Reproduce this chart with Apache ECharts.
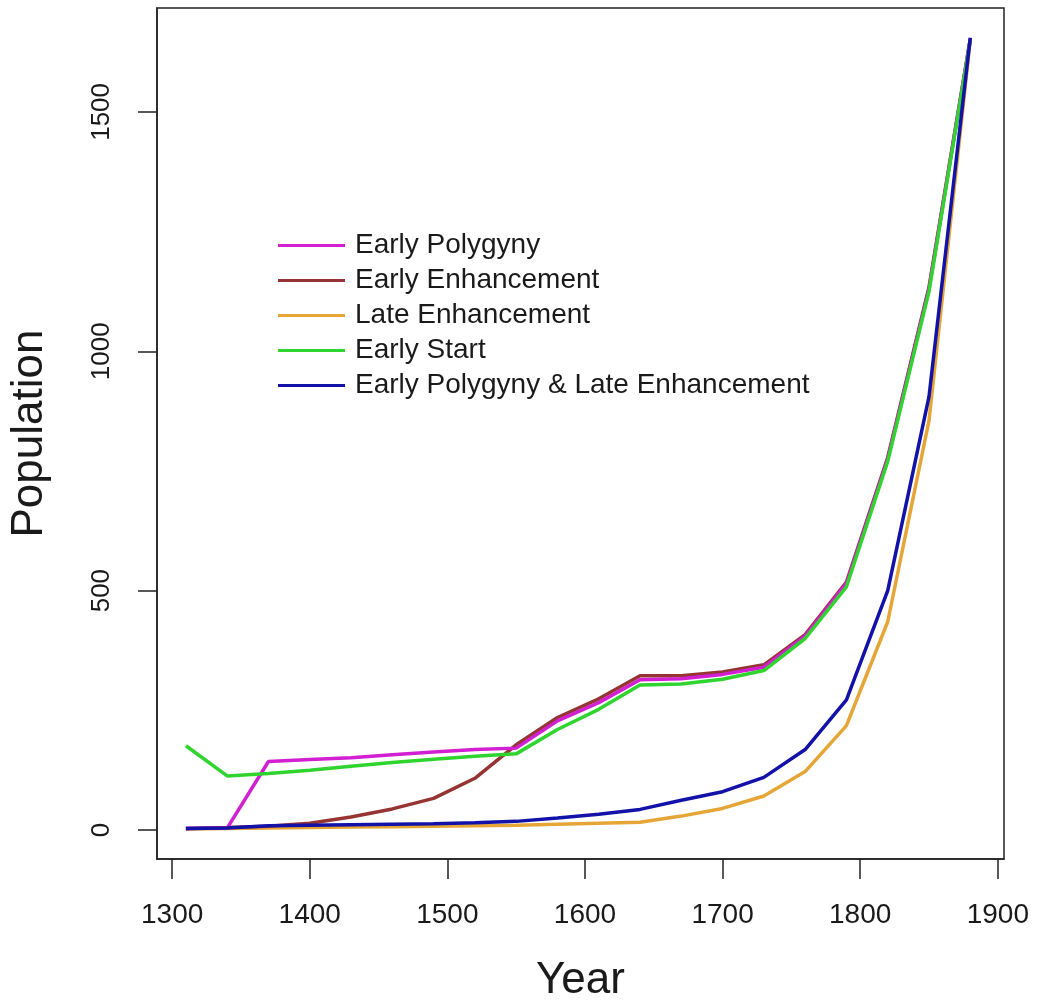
<!DOCTYPE html>
<html>
<head>
<meta charset="utf-8">
<script src="https://cdn.jsdelivr.net/npm/echarts@6/dist/echarts.min.js"></script>
<style>
  html, body { margin: 0; padding: 0; background: #fff; overflow: hidden; }
  #chart { width: 1038px; height: 1000px; }
</style>
</head>
<body>
<div id="chart"></div>
<script>
// ---- Data ----
const years = [1310, 1340, 1370, 1400, 1430, 1460, 1490, 1520, 1550, 1580,
               1610, 1640, 1670, 1700, 1730, 1760, 1790, 1820, 1850, 1880];

const earlyPolygyny      = [3, 4, 143, 147, 151, 157, 163, 168, 171, 228, 266, 314, 316, 325, 340, 405, 515, 775, 1130, 1652];
const earlyEnhancement   = [3, 5, 8, 14, 27, 44, 66, 108, 178, 235, 274, 322, 322, 330, 345, 408, 518, 778, 1134, 1652];
const lateEnhancement    = [2, 3, 4, 5, 6, 7, 8, 9, 10, 12, 14, 16, 29, 45, 71, 122, 218, 435, 855, 1650];
const earlyStart         = [176, 113, 118, 125, 133, 141, 148, 154, 159, 210, 252, 303, 305, 315, 333, 400, 508, 770, 1125, 1650];
const earlyPolyLateEnh   = [3, 4, 9, 10, 11, 12, 13, 15, 18, 25, 33, 43, 62, 80, 110, 168, 272, 500, 905, 1655];

const seriesNames = ['Early Polygyny', 'Early Enhancement', 'Late Enhancement', 'Early Start', 'Early Polygyny & Late Enhancement'];
const xTicks = [1300, 1400, 1500, 1600, 1700, 1800, 1900];
const yTicks = [0, 500, 1000, 1500];

const colors = {
  'Early Polygyny': '#d11fd1',
  'Early Enhancement': '#963434',
  'Late Enhancement': '#e6a637',
  'Early Start': '#2fd42f',
  'Early Polygyny & Late Enhancement': '#1212a8'
};

function pairs(vals) { return years.map((y, i) => [y, vals[i]]); }

const dataByName = {
  'Early Polygyny': earlyPolygyny,
  'Early Enhancement': earlyEnhancement,
  'Late Enhancement': lateEnhancement,
  'Early Start': earlyStart,
  'Early Polygyny & Late Enhancement': earlyPolyLateEnh
};

// draw order (later = on top)
const drawOrder = ['Late Enhancement', 'Early Enhancement', 'Early Polygyny', 'Early Start', 'Early Polygyny & Late Enhancement'];

const FONT = '"Liberation Sans", Arial, sans-serif';
const chart = echarts.init(document.getElementById('chart'), null, { renderer: 'canvas' });

chart.setOption({
  animation: false,
  backgroundColor: '#ffffff',
  grid: {
    left: 157, right: 34, top: 8, bottom: 141,
    outerBoundsMode: 'none',
    containLabel: false,
    show: true, borderColor: '#222', borderWidth: 1.5, backgroundColor: 'transparent'
  },
  legend: {
    orient: 'vertical',
    left: 273,
    top: 223,
    itemWidth: 67,
    itemHeight: 3,
    itemGap: 0,
    icon: 'rect',
    data: seriesNames,
    textStyle: { fontFamily: FONT, fontSize: 28, color: '#1a1a1a', lineHeight: 35, padding: [0, 0, 0, 5] }
  },
  xAxis: {
    type: 'value',
    min: 1289,
    max: 1904.5,
    name: 'Year',
    nameLocation: 'middle',
    nameGap: 100,
    nameTextStyle: { fontFamily: FONT, fontSize: 44, color: '#1a1a1a' },
    splitLine: { show: false },
    axisLine: { show: true, onZero: false, lineStyle: { color: '#222', width: 1.5 } },
    axisTick: { show: true, inside: false, length: 20, lineStyle: { color: '#222', width: 1.5 }, customValues: xTicks },
    axisLabel: { fontFamily: FONT, fontSize: 28, color: '#1a1a1a', margin: 42, customValues: xTicks,
                 formatter: v => String(v) }
  },
  yAxis: {
    type: 'value',
    min: -60.6,
    max: 1717,
    name: 'Population',
    nameLocation: 'middle',
    nameGap: 105,
    nameRotate: 90,
    nameTextStyle: { fontFamily: FONT, fontSize: 44, color: '#1a1a1a' },
    splitLine: { show: false },
    axisLine: { show: true, onZero: false, lineStyle: { color: '#222', width: 1.5 } },
    axisTick: { show: true, inside: false, length: 19, lineStyle: { color: '#222', width: 1.5 }, customValues: yTicks },
    axisLabel: { fontFamily: FONT, fontSize: 26, color: '#1a1a1a', margin: 42, rotate: 90, customValues: yTicks,
                 formatter: v => String(v) }
  },
  series: drawOrder.map(name => ({
    name: name,
    type: 'line',
    data: pairs(dataByName[name]),
    showSymbol: false,
    symbol: 'none',
    lineStyle: { color: colors[name], width: 3.5 },
    itemStyle: { color: colors[name] }
  }))
});
</script>
</body>
</html>
